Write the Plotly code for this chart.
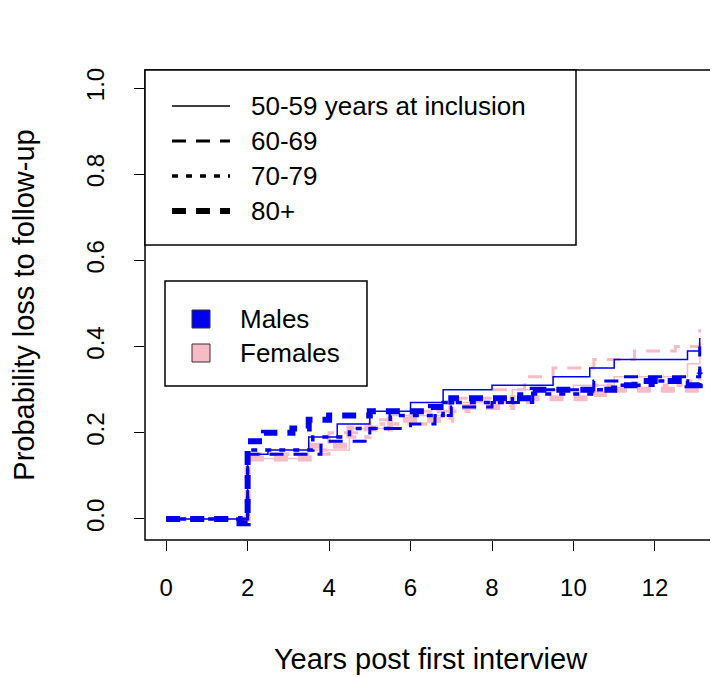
import plotly.graph_objects as go

# step curves: times (years) and cumulative probability of loss to follow-up
t_m50 = [0, 1.9, 2.0, 2.5, 3.5, 4.2, 5.0, 6.0, 6.8, 8.0, 9.5, 10.4, 11.0, 12.8, 13.1]
m50 = [0, 0, 0.15, 0.16, 0.19, 0.22, 0.25, 0.27, 0.30, 0.31, 0.33, 0.35, 0.37, 0.39, 0.42]
t_m60 = [0, 1.9, 2.0, 3.0, 3.8, 5.0, 6.0, 6.6, 7.0, 8.0, 9.0, 10.5, 11.2, 12.8, 13.1]
m60 = [0, 0, 0.15, 0.15, 0.18, 0.21, 0.22, 0.24, 0.26, 0.27, 0.30, 0.32, 0.33, 0.33, 0.40]
t_m70 = [0, 1.9, 2.0, 3.0, 3.6, 4.5, 5.5, 6.8, 8.5, 10.5, 11.0, 12.0, 12.8, 13.1]
m70 = [0, 0, 0.16, 0.16, 0.19, 0.21, 0.24, 0.27, 0.29, 0.30, 0.31, 0.32, 0.31, 0.35]
t_m80 = [0, 1.8, 2.0, 2.4, 3.1, 3.5, 4.0, 5.0, 6.5, 7.0, 9.0, 10.5, 11.0, 11.5, 12.8, 13.1]
m80 = [0, -0.01, 0.18, 0.20, 0.21, 0.23, 0.24, 0.25, 0.26, 0.28, 0.30, 0.30, 0.31, 0.32, 0.31, 0.34]

t_f50 = [0, 1.9, 2.0, 3.5, 4.5, 5.5, 7.0, 8.5, 10.0, 11.0, 12.8, 13.1]
f50 = [0, 0, 0.14, 0.16, 0.21, 0.24, 0.27, 0.30, 0.31, 0.33, 0.36, 0.38]
t_f60 = [0, 1.9, 2.0, 3.0, 4.0, 5.0, 6.0, 7.0, 8.0, 8.8, 9.5, 10.5, 11.5, 12.5, 13.1]
f60 = [0, 0, 0.15, 0.15, 0.20, 0.23, 0.25, 0.28, 0.30, 0.33, 0.35, 0.37, 0.39, 0.40, 0.44]
t_f70 = [0, 1.9, 2.0, 3.2, 4.0, 5.0, 6.5, 7.5, 9.0, 10.5, 12.8, 13.1]
f70 = [0, 0, 0.15, 0.16, 0.19, 0.22, 0.25, 0.27, 0.29, 0.31, 0.32, 0.34]
t_f80 = [0, 1.9, 2.0, 3.0, 3.5, 4.5, 5.5, 7.0, 8.5, 10.5, 11.0, 12.8, 13.1]
f80 = [0, 0, 0.14, 0.14, 0.17, 0.21, 0.23, 0.26, 0.28, 0.29, 0.30, 0.30, 0.30]

x_ticks = [0, 2, 4, 6, 8, 10, 12]
y_ticks = [0.0, 0.2, 0.4, 0.6, 0.8, 1.0]
ages = ["50-59 years at inclusion", "60-69", "70-79", "80+"]
sexes = ["Males", "Females"]

BLUE = "#0000ee"
PINK = "#f6bcc6"
styles = [("solid", 1.5), ("14px,10px", 3), ("6px,8px", 3.5), ("14px,10px", 6)]

fig = go.Figure()
series = [(t_f50, f50), (t_f60, f60), (t_f70, f70), (t_f80, f80),
          (t_m50, m50), (t_m60, m60), (t_m70, m70), (t_m80, m80)]
for i, (t, v) in enumerate(series):
    dash, w = styles[i % 4]
    fig.add_trace(go.Scatter(x=t, y=v, mode="lines", line_shape="hv",
                             line=dict(color=PINK if i < 4 else BLUE, dash=dash, width=w),
                             showlegend=False, hoverinfo="skip"))

# page sits ~8px lower/right than the layout margins, so shift by that
OFF = 8


def px(x):
    return (x - 145) / 571


def py(y):
    return (540 - y) / 470


shapes = [
    dict(type="rect", xref="paper", yref="paper", x0=0, x1=1, y0=0, y1=1,
         line=dict(color="black", width=1.5)),
    dict(type="rect", xref="paper", yref="paper", x0=px(145), x1=px(576), y0=py(245), y1=py(70),
         line=dict(color="black", width=1.5), fillcolor="white"),
    dict(type="rect", xref="paper", yref="paper", x0=px(165), x1=px(367), y0=py(386), y1=py(281),
         line=dict(color="black", width=1.5), fillcolor="white"),
]
annotations = []
for i, lab in enumerate(ages):
    yy = 106 + i * 35
    dash, w = styles[i]
    shapes.append(dict(type="line", xref="paper", yref="paper", x0=px(172), x1=px(230),
                       y0=py(yy), y1=py(yy), line=dict(color="black", dash=dash, width=w)))
    annotations.append(dict(xref="paper", yref="paper", x=px(249), y=py(yy), text=lab,
                            showarrow=False, xanchor="left", yanchor="middle",
                            font=dict(size=26, color="black")))
for i, (lab, col) in enumerate(zip(sexes, [BLUE, PINK])):
    yy = 319 + i * 34
    shapes.append(dict(type="rect", xref="paper", yref="paper", x0=px(192), x1=px(210),
                       y0=py(yy + 9), y1=py(yy - 9), fillcolor=col, line=dict(color="#333", width=1)))
    annotations.append(dict(xref="paper", yref="paper", x=px(238), y=py(yy), text=lab,
                            showarrow=False, xanchor="left", yanchor="middle",
                            font=dict(size=26, color="black")))

fig.update_layout(
    width=718, height=678, plot_bgcolor="white", paper_bgcolor="white",
    margin=dict(l=145 - OFF, r=2 + OFF, t=70 - OFF, b=138 + OFF),
    font=dict(family="Liberation Sans, Arial", size=24, color="black"),
    shapes=shapes, annotations=annotations,
    xaxis=dict(range=[-0.52, 13.5], tickvals=x_ticks, showgrid=False, zeroline=False,
               ticks="outside", ticklen=10, tickcolor="black", showline=False,
               ticklabelstandoff=16,
               title=dict(text="Years post first interview", standoff=48)),
    yaxis=dict(range=[-0.049, 1.042], tickvals=y_ticks, ticktext=[f"{v:.1f}" for v in y_ticks],
               showgrid=False, zeroline=False, ticks="outside", ticklen=10, tickcolor="black",
               tickangle=-90, ticklabelstandoff=20,
               title=dict(text="Probability loss to follow-up", standoff=40)),
)
fig.write_html("out.html")
